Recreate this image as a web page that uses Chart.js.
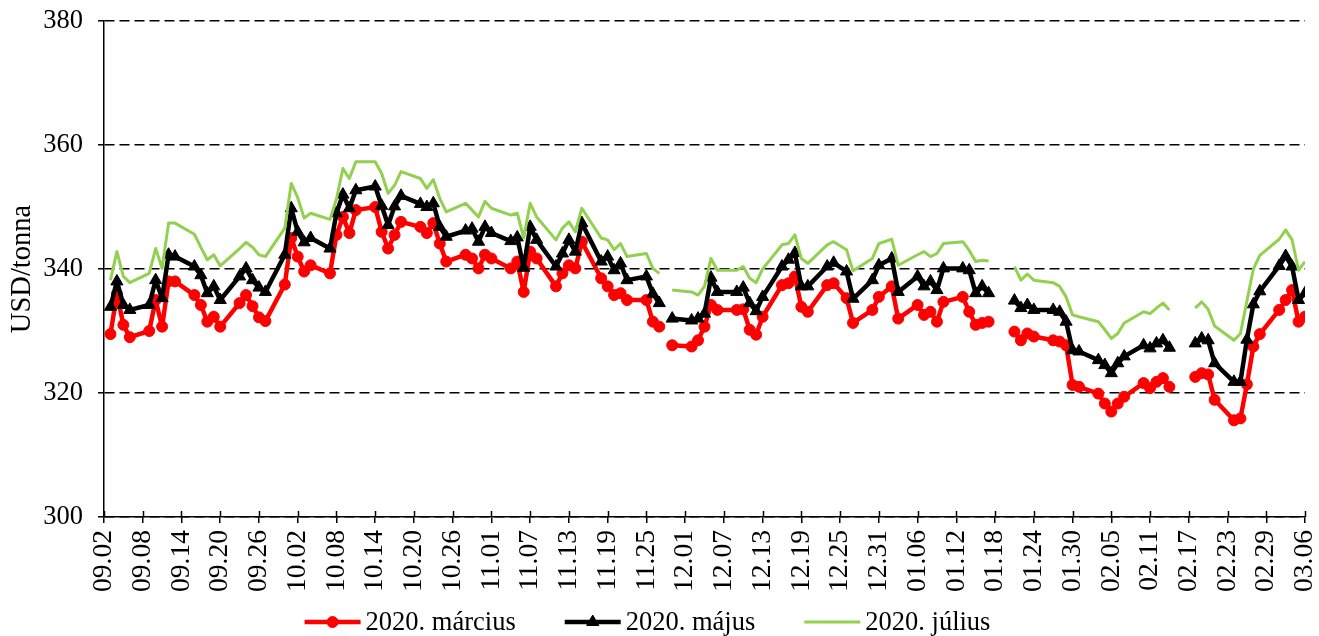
<!DOCTYPE html>
<html>
<head>
<meta charset="utf-8">
<script src="https://cdn.jsdelivr.net/npm/chart.js@4.4.0/dist/chart.umd.min.js"></script>
<style>
  html, body { margin: 0; padding: 0; background: #fff; }
</style>
</head>
<body>
<canvas id="chart" width="1319" height="636"></canvas>
<script>
// trading days (MM.DD); the null rows are exchange holidays and break the lines
const tradingDays = [
  '09.03', '09.04', '09.05', '09.06',
  '09.09', '09.10', '09.11', '09.12', '09.13',
  '09.16', '09.17', '09.18', '09.19', '09.20',
  '09.23', '09.24', '09.25', '09.26', '09.27',
  '09.30', '10.01', '10.02', '10.03', '10.04',
  '10.07', '10.08', '10.09', '10.10', '10.11',
  '10.14', '10.15', '10.16', '10.17', '10.18',
  '10.21', '10.22', '10.23', '10.24', '10.25',
  '10.28', '10.29', '10.30', '10.31', '11.01',
  '11.04', '11.05', '11.06', '11.07', '11.08',
  '11.11', '11.12', '11.13', '11.14', '11.15',
  '11.18', '11.19', '11.20', '11.21', '11.22',
  '11.25', '11.26', '11.27', '11.28', '11.29',
  '12.02', '12.03', '12.04', '12.05', '12.06',
  '12.09', '12.10', '12.11', '12.12', '12.13',
  '12.16', '12.17', '12.18', '12.19', '12.20',
  '12.23', '12.24', '12.26', '12.27',
  '12.30', '12.31', '01.02', '01.03',
  '01.06', '01.07', '01.08', '01.09', '01.10',
  '01.13', '01.14', '01.15', '01.16', '01.17',
  '01.20', '01.21', '01.22', '01.23', '01.24',
  '01.27', '01.28', '01.29', '01.30', '01.31',
  '02.03', '02.04', '02.05', '02.06', '02.07',
  '02.10', '02.11', '02.12', '02.13', '02.14',
  '02.17', '02.18', '02.19', '02.20', '02.21',
  '02.24', '02.25', '02.26', '02.27', '02.28',
  '03.02', '03.03', '03.04', '03.05', '03.06'
];

const marcius = [
  329.5, 336.0, 331.0, 329.0,
  330.0, 335.0, 330.7, 338.0, 338.0,
  335.8, 334.2, 331.5, 332.3, 330.7,
  334.5, 335.8, 334.0, 332.2, 331.6,
  337.5, 345.0, 342.0, 339.6, 340.6,
  339.3, 345.5, 348.4, 345.8, 349.5,
  350.0, 346.0, 343.3, 345.5, 347.6,
  346.8, 345.8, 347.4, 344.1, 341.2,
  342.3, 341.7, 340.1, 342.3, 341.7,
  340.1, 341.2, 336.3, 342.8, 341.7,
  337.2, 339.3, 340.6, 340.1, 344.4,
  338.5, 337.2, 335.8, 336.1, 335.0,
  335.0, 331.5, 330.7, null, 327.7,
  327.5, 328.5, 330.7, 334.2, 333.4,
  333.4, 333.5, 330.2, 329.4, 332.3,
  337.4, 337.7, 338.8, 333.9, 333.1,
  337.4, 337.7, 335.3, 331.3,
  333.4, 335.5, 337.2, 332.0,
  334.2, 332.6, 333.1, 331.5, 334.7,
  335.5, 333.1, 331.0, 331.3, 331.5,
  null, 329.9, 328.5, 329.6, 329.1,
  328.5, 328.3, 327.7, 321.3, 321.0,
  319.9, 318.3, 317.0, 318.3, 319.4,
  321.6, 320.8, 321.8, 322.4, 321.0,
  null, 322.6, 323.2, 323.0, 318.9,
  315.6, 315.9, 321.4, 327.5, 329.5,
  333.4, 335.0, 336.6, 331.5, 332.3
];

const majus = [
  333.9, 338.0, 334.2, 333.4,
  334.2, 338.2, 335.3, 342.3, 342.0,
  340.4, 339.0, 336.1, 337.2, 335.0,
  338.8, 340.1, 338.2, 337.0, 336.3,
  342.3, 349.8, 346.0, 344.3, 345.0,
  343.3, 349.0, 352.0, 349.8, 352.7,
  353.3, 350.2, 347.1, 350.1, 351.8,
  350.5, 350.0, 350.6, 346.8, 345.2,
  346.2, 346.5, 344.4, 346.8, 345.8,
  344.5, 345.1, 340.2, 346.8, 344.7,
  340.4, 342.5, 344.7, 342.8, 347.4,
  341.2, 342.0, 339.8, 340.9, 338.2,
  338.8, 336.0, 334.5, null, 332.0,
  331.7, 332.0, 332.8, 338.6, 336.3,
  336.3, 337.0, 334.5, 333.2, 335.5,
  340.4, 341.5, 342.6, 337.2, 337.2,
  340.4, 341.0, 339.6, 335.2,
  338.2, 340.6, 341.7, 336.3,
  338.8, 337.2, 338.0, 336.6, 340.1,
  340.1, 339.8, 336.1, 337.2, 336.1,
  null, 334.9, 333.7, 334.2, 333.4,
  333.4, 333.1, 331.5, 326.9, 326.7,
  325.3, 324.5, 323.2, 324.8, 325.9,
  327.7, 327.2, 328.0, 328.5, 327.3,
  null, 328.0, 328.8, 328.5, 324.8,
  321.8, 321.8, 328.6, 334.3, 336.4,
  340.5, 342.1, 340.4, 335.0, 336.1
];

const julius = [
  338.2, 342.8, 338.8, 337.8,
  339.3, 343.3, 340.1, 347.4, 347.4,
  345.6, 343.5, 341.5, 342.3, 340.5,
  343.3, 344.3, 343.5, 342.3, 342.0,
  346.6, 353.8, 351.5, 348.2, 349.0,
  348.0, 351.3, 356.2, 354.6, 357.3,
  357.3, 355.4, 352.2, 353.5, 355.7,
  354.6, 353.0, 354.4, 351.4, 349.2,
  350.6, 349.5, 348.4, 350.9, 349.8,
  348.7, 349.0, 345.0, 350.6, 348.4,
  344.7, 346.6, 347.6, 346.0, 349.8,
  345.0, 344.7, 343.1, 344.1, 342.0,
  342.5, 340.1, 339.3, null, 336.6,
  336.3, 335.8, 337.2, 341.7, 339.8,
  339.8, 340.4, 338.5, 337.8, 340.0,
  343.9, 344.1, 345.5, 341.7, 340.9,
  343.9, 344.4, 343.1, 339.7,
  341.7, 344.1, 344.8, 340.6,
  342.3, 342.8, 342.0, 342.5, 344.1,
  344.4, 343.0, 341.2, 341.4, 341.3,
  null, 340.4, 338.2, 339.2, 338.2,
  337.8, 337.2, 335.5, 332.6, 332.3,
  331.5, 330.2, 328.8, 329.6, 331.3,
  333.1, 332.8, 333.7, 334.5, 333.4,
  null, 333.7, 334.7, 333.5, 330.8,
  328.5, 329.6, 334.8, 340.0, 342.2,
  344.8, 346.3, 344.7, 339.8, 341.2
];

// axis labels every 6 calendar days
const tickLabels = [
  '09.02', '09.08', '09.14', '09.20', '09.26', '10.02', '10.08', '10.14',
  '10.20', '10.26', '11.01', '11.07', '11.13', '11.19', '11.25', '12.01',
  '12.07', '12.13', '12.19', '12.25', '12.31', '01.06', '01.12', '01.18',
  '01.24', '01.30', '02.05', '02.11', '02.17', '02.23', '02.29', '03.06'
];

const FONT = '"Liberation Serif", "Times New Roman", serif';
Chart.defaults.font.family = FONT;
Chart.defaults.color = '#000';

// days since the first axis date, so the x axis is a real date axis
const start = Date.UTC(2019, 8, 2);
function dayIndex(label) {
  const [m, d] = label.split('.').map(Number);
  const year = m >= 9 ? 2019 : 2020;
  return (Date.UTC(year, m - 1, d) - start) / 86400000;
}
const toPoints = values => tradingDays.map((day, i) => ({ x: dayIndex(day), y: values[i] }));

// excel style legend: short line with the marker in the middle
const lineLegend = {
  id: 'lineLegend',
  afterDraw(chart) {
    const ctx = chart.ctx;
    const sets = chart.data.datasets;
    const lineLen = 56, textGap = 5, itemGap = 49, y = 622;
    ctx.save();
    ctx.font = '26.5px ' + FONT;
    ctx.textBaseline = 'middle';
    const widths = sets.map(ds => lineLen + textGap + ctx.measureText(ds.label).width);
    const total = widths.reduce((a, b) => a + b, 0) + itemGap * (sets.length - 1);
    let x = (chart.width - total) / 2 - 12;
    sets.forEach((ds, i) => {
      ctx.strokeStyle = ds.borderColor;
      ctx.fillStyle = ds.backgroundColor;
      ctx.lineWidth = ds.borderWidth;
      ctx.beginPath();
      ctx.moveTo(x, y);
      ctx.lineTo(x + lineLen, y);
      ctx.stroke();
      if (ds.pointRadius > 0) {
        ctx.lineWidth = 1;
        Chart.helpers.drawPoint(ctx, { pointStyle: ds.pointStyle, radius: ds.pointRadius, rotation: 0, borderWidth: 1 }, x + lineLen / 2, y);
      }
      ctx.fillStyle = '#000';
      ctx.fillText(ds.label, x + lineLen + textGap, y + 1);
      x += widths[i] + itemGap;
    });
    ctx.restore();
  }
};

// tick marks that cross the date axis
const crossTicks = {
  id: 'crossTicks',
  afterDraw(chart) {
    const { ctx, scales: { x }, chartArea } = chart;
    ctx.save();
    ctx.strokeStyle = '#000';
    ctx.lineWidth = 1.5;
    x.ticks.forEach(t => {
      const px = Math.round(x.getPixelForValue(t.value)) + 0.5;
      ctx.beginPath();
      ctx.moveTo(px, chartArea.bottom);
      ctx.lineTo(px, chartArea.bottom - 6);
      ctx.stroke();
    });
    ctx.restore();
  }
};

new Chart(document.getElementById('chart'), {
  type: 'line',
  data: {
    datasets: [
      {
        label: '2020. március',
        data: toPoints(marcius),
        borderColor: '#ff0000',
        backgroundColor: '#ff0000',
        borderWidth: 4.5,
        borderJoinStyle: 'round',
        pointStyle: 'circle',
        pointRadius: 5.5,
        pointBorderWidth: 1,
        order: 3
      },
      {
        label: '2020. május',
        data: toPoints(majus),
        borderColor: '#000000',
        backgroundColor: '#000000',
        borderWidth: 4.5,
        borderJoinStyle: 'round',
        pointStyle: 'triangle',
        pointRadius: 7,
        pointBorderWidth: 1,
        order: 2
      },
      {
        label: '2020. július',
        data: toPoints(julius),
        borderColor: '#92d050',
        backgroundColor: '#92d050',
        borderWidth: 3,
        borderJoinStyle: 'round',
        pointRadius: 0,
        order: 1
      }
    ]
  },
  options: {
    responsive: false,
    animation: false,
    spanGaps: false,
    layout: { padding: { top: 21, right: 14, bottom: 45, left: 1 } },
    plugins: {
      legend: { display: false },
      tooltip: { enabled: false }
    },
    scales: {
      x: {
        type: 'linear',
        min: 0,
        max: 186,
        ticks: {
          stepSize: 6,
          autoSkip: false,
          minRotation: 90,
          maxRotation: 90,
          padding: 7,
          font: { size: 27.5 },
          callback: v => tickLabels[Math.round(v / 6)]
        },
        grid: { drawOnChartArea: false, tickLength: 6, color: '#000', lineWidth: 1.5 },
        border: { display: true, color: '#000', width: 1.5 },
        afterFit: s => {
          s.height = 74;
          s.paddingLeft = 0;
          s.paddingRight = 0;
        }
      },
      y: {
        min: 300,
        max: 380,
        ticks: { stepSize: 20, padding: 15, font: { size: 26.5 } },
        grid: { color: '#000', lineWidth: 1.6, tickLength: 6, tickColor: '#000', tickWidth: 1.5 },
        border: { display: true, color: '#000', width: 1.5, dash: [10, 5] },
        title: { display: true, text: 'USD/tonna', font: { size: 28.5 } },
        afterFit: s => {
          s.width = 103;
          s.paddingTop = 0;
          s.paddingBottom = 0;
        }
      }
    }
  },
  plugins: [lineLegend, crossTicks]
});
</script>
</body>
</html>
